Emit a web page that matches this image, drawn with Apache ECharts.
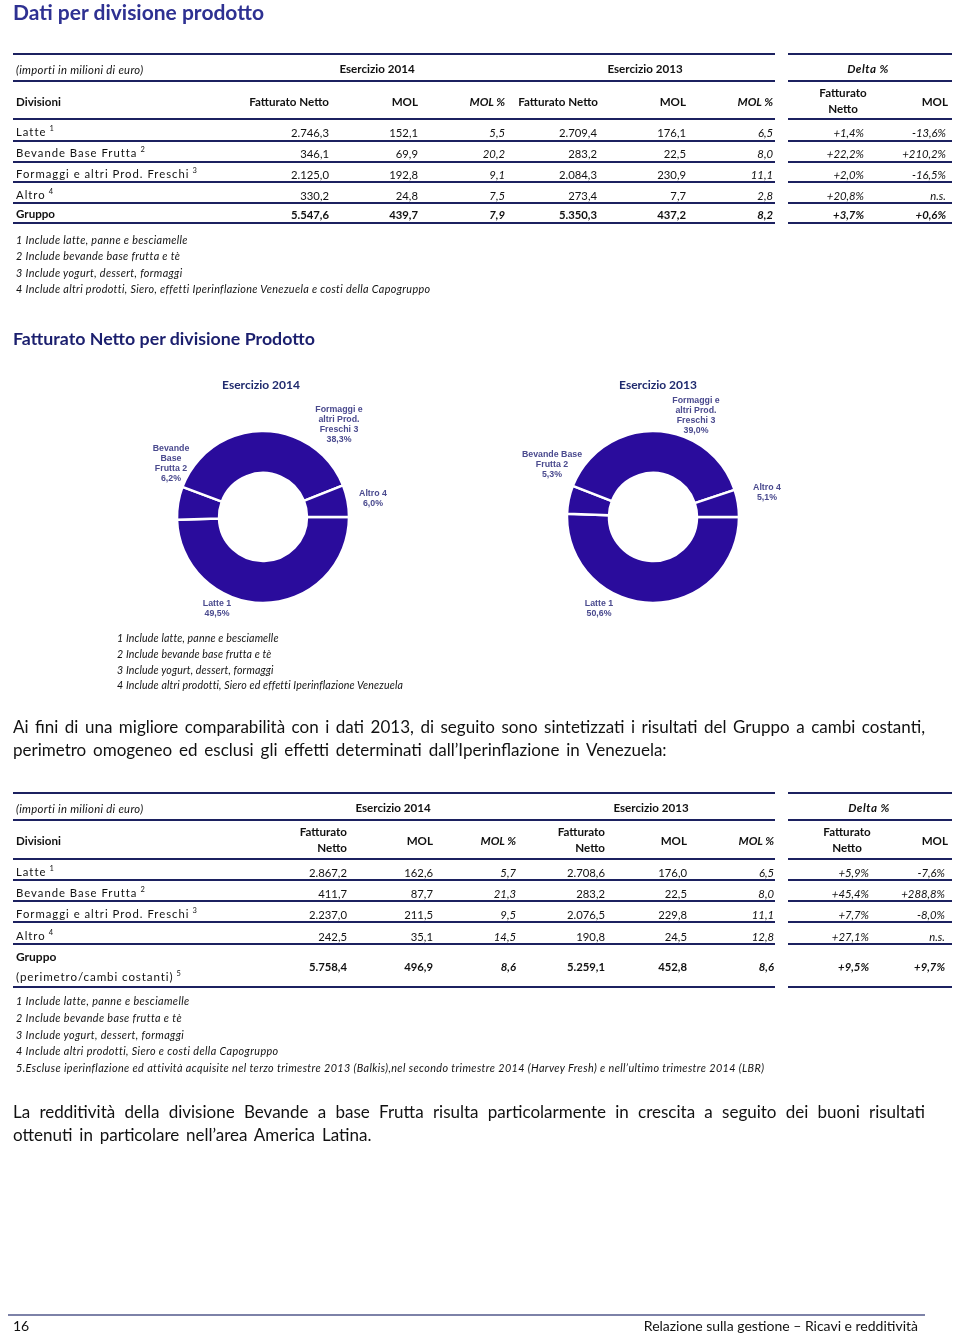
<!DOCTYPE html>
<html><head><meta charset="utf-8">
<script src="https://cdn.jsdelivr.net/npm/echarts@6/dist/echarts.min.js"></script>
<style>
html,body{margin:0;padding:0;background:#fff;}
#page{position:relative;width:960px;height:1334px;overflow:hidden;font-family:Lato,'Open Sans',sans-serif;color:#111;}
.t{position:absolute;white-space:nowrap;line-height:1.15;}
.ln{position:absolute;background:#1c2160;}
.sup{font-size:7.5px;position:relative;top:-5px;margin-left:3px;letter-spacing:0;}
#chart{position:absolute;left:0;top:0;width:960px;height:1334px;}
.par{position:absolute;left:13px;width:912px;font-size:17px;text-align:justify;text-align-last:justify;white-space:nowrap;line-height:1;color:#111;}
</style></head><body><div id="page"><div id="chart"></div></div>
<script>
// ---------------- DATA ----------------
const pageTitle = 'Dati per divisione prodotto';
const chartSectionTitle = 'Fatturato Netto per divisione Prodotto';
const unitLabel = '(importi in milioni di euro)';
const yearHeaders = ['Esercizio 2014', 'Esercizio 2013'];
const deltaHeader = 'Delta %';
const divisions = ['Latte', 'Bevande Base Frutta', 'Formaggi e altri Prod. Freschi', 'Altro'];
const divisionNotes = ['1', '2', '3', '4'];

// Table 1
const t1Fatt2014 = ['2.746,3', '346,1', '2.125,0', '330,2', '5.547,6'];
const t1Mol2014 = ['152,1', '69,9', '192,8', '24,8', '439,7'];
const t1MolPct2014 = ['5,5', '20,2', '9,1', '7,5', '7,9'];
const t1Fatt2013 = ['2.709,4', '283,2', '2.084,3', '273,4', '5.350,3'];
const t1Mol2013 = ['176,1', '22,5', '230,9', '7,7', '437,2'];
const t1MolPct2013 = ['6,5', '8,0', '11,1', '2,8', '8,2'];
const t1DeltaFatt = ['+1,4%', '+22,2%', '+2,0%', '+20,8%', '+3,7%'];
const t1DeltaMol = ['-13,6%', '+210,2%', '-16,5%', 'n.s.', '+0,6%'];
const t1Notes = [
  '1 Include latte, panne e besciamelle',
  '2 Include bevande base frutta e tè',
  '3 Include yogurt, dessert, formaggi',
  '4 Include altri prodotti, Siero, effetti Iperinflazione Venezuela e costi della Capogruppo'
];

// Donut charts (share of Fatturato Netto, %)
const pieYears = ['Esercizio 2014', 'Esercizio 2013'];
const share2014 = [49.5, 6.2, 38.3, 6.0];
const share2013 = [50.6, 5.3, 39.0, 5.1];
const pieLabels2014 = ['Latte 1', 'Bevande\nBase\nFrutta 2', 'Formaggi e\naltri Prod.\nFreschi 3', 'Altro 4'];
const pieLabels2013 = ['Latte 1', 'Bevande Base\nFrutta 2', 'Formaggi e\naltri Prod.\nFreschi 3', 'Altro 4'];
const pieNotes = [
  '1 Include latte, panne e besciamelle',
  '2 Include bevande base frutta e tè',
  '3 Include yogurt, dessert, formaggi',
  '4 Include altri prodotti, Siero ed effetti Iperinflazione Venezuela'
];

const para1 = [
  'Ai fini di una migliore comparabilità con i dati 2013, di seguito sono sintetizzati i risultati del Gruppo a cambi costanti,',
  'perimetro omogeneo ed esclusi gli effetti determinati dall’Iperinflazione in Venezuela:'
];

// Table 2
const t2GroupLabel = ['Gruppo', '(perimetro/cambi costanti)', '5'];
const t2Fatt2014 = ['2.867,2', '411,7', '2.237,0', '242,5', '5.758,4'];
const t2Mol2014 = ['162,6', '87,7', '211,5', '35,1', '496,9'];
const t2MolPct2014 = ['5,7', '21,3', '9,5', '14,5', '8,6'];
const t2Fatt2013 = ['2.708,6', '283,2', '2.076,5', '190,8', '5.259,1'];
const t2Mol2013 = ['176,0', '22,5', '229,8', '24,5', '452,8'];
const t2MolPct2013 = ['6,5', '8,0', '11,1', '12,8', '8,6'];
const t2DeltaFatt = ['+5,9%', '+45,4%', '+7,7%', '+27,1%', '+9,5%'];
const t2DeltaMol = ['-7,6%', '+288,8%', '-8,0%', 'n.s.', '+9,7%'];
const t2Notes = [
  '1 Include latte, panne e besciamelle',
  '2 Include bevande base frutta e tè',
  '3 Include yogurt, dessert, formaggi',
  '4 Include altri prodotti, Siero e costi della Capogruppo',
  '5.Escluse iperinflazione ed attività acquisite nel terzo trimestre 2013 (Balkis),nel secondo trimestre 2014 (Harvey Fresh) e nell\u2019ultimo trimestre 2014 (LBR)'
];
const para2 = [
  'La redditività della divisione Bevande a base Frutta risulta particolarmente in crescita a seguito dei buoni risultati',
  'ottenuti in particolare nell’area America Latina.'
];
const footerLeft = '16';
const footerRight = 'Relazione sulla gestione – Ricavi e redditività';

// ---------------- LAYOUT HELPERS ----------------
const page = document.getElementById('page');
function put(html, x, y, o) {
  o = o || {};
  const d = document.createElement('div');
  d.className = 't';
  d.innerHTML = html;
  d.style.fontSize = (o.size || 11) + 'px';
  if (o.bold) d.style.fontWeight = '700';
  if (o.italic) d.style.fontStyle = 'italic';
  if (o.color) d.style.color = o.color;
  if (o.ls) d.style.letterSpacing = o.ls + 'px';
  if (o.lh) d.style.lineHeight = o.lh + 'px';
  const a = o.align || 'left';
  d.style.textAlign = a;
  d.style.left = x + 'px';
  d.style.top = y + 'px';
  d.style.transform = 'translate(' + (a === 'right' ? '-100%' : a === 'center' ? '-50%' : '0') + ',-50%)';
  page.appendChild(d);
  return d;
}
function hline(x1, x2, y, w, color) {
  const d = document.createElement('div');
  d.className = 'ln';
  d.style.left = x1 + 'px';
  d.style.width = (x2 - x1) + 'px';
  d.style.top = (y - w / 2) + 'px';
  d.style.height = w + 'px';
  if (color) d.style.background = color;
  page.appendChild(d);
}
function tableLine(y, w) { hline(13, 775, y, w); hline(788, 952, y, w); }
function para(lines, y0, step) {
  lines.forEach((l, i) => {
    const d = document.createElement('div');
    d.className = 'par';
    d.textContent = l;
    d.style.top = (y0 + i * step - 9) + 'px';
    if (i === lines.length - 1) { d.style.textAlignLast = 'left'; d.style.wordSpacing = '2.5px'; }
    page.appendChild(d);
  });
}
function sup(n) { return '<span class="sup">' + n + '</span>'; }

const HS = 11.6;  // header font size
const NS = 11.3;  // number font size

// ---------------- PAGE ----------------
put(pageTitle, 13, 12, {size: 21, bold: true, color: '#2e3192'});

// Table 1
const T1 = {
  cols: [329, 418, 505, 597, 686, 773, 864, 946],
  rows: [132, 153, 174, 195, 214],
  lines: [[54, 2.5], [81, 2.5], [119, 2.5], [141, 1.5], [162, 1.5], [182, 1.5], [203, 2.5], [223, 2.5]]
};
T1.lines.forEach(l => tableLine(l[0], l[1]));
put(unitLabel, 16, 69, {size: 11.3, italic: true, ls: 0.3});
put(yearHeaders[0], 377, 69, {size: HS, bold: true, align: 'center'});
put(yearHeaders[1], 645, 69, {size: HS, bold: true, align: 'center'});
put(deltaHeader, 868, 69, {size: HS, bold: true, italic: true, align: 'center', ls: 0.5});
put('Divisioni', 16, 102, {size: HS, bold: true});
put('Fatturato Netto', T1.cols[0], 102, {size: HS, bold: true, align: 'right'});
put('MOL', T1.cols[1], 102, {size: HS, bold: true, align: 'right'});
put('MOL %', T1.cols[2], 102, {size: HS, bold: true, italic: true, align: 'right'});
put('Fatturato Netto', 598, 102, {size: HS, bold: true, align: 'right'});
put('MOL', T1.cols[4], 102, {size: HS, bold: true, align: 'right'});
put('MOL %', T1.cols[5], 102, {size: HS, bold: true, italic: true, align: 'right'});
put('Fatturato<br>Netto', 843, 101, {size: HS, bold: true, align: 'center', lh: 16});
put('MOL', 948, 102, {size: HS, bold: true, align: 'right'});
const t1Cols = [t1Fatt2014, t1Mol2014, t1MolPct2014, t1Fatt2013, t1Mol2013, t1MolPct2013, t1DeltaFatt, t1DeltaMol];
const italicCols = [false, false, true, false, false, true, true, true];
for (let r = 0; r < 5; r++) {
  const y = T1.rows[r];
  const bold = r === 4;
  if (r < 4) put(divisions[r] + sup(divisionNotes[r]), 16, y, {size: NS, ls: 1});
  else put('Gruppo', 16, y, {size: HS, bold: true});
  t1Cols.forEach((c, i) => put(c[r], T1.cols[i], y, {size: NS, bold: bold, italic: italicCols[i], align: 'right'}));
}
t1Notes.forEach((n, i) => put(n, 16, 240 + i * 16.4, {size: 10.8, italic: true, ls: 0.35}));

// Chart section
put(chartSectionTitle, 13, 338, {size: 17.8, bold: true, color: '#1b1f6e'});
pieNotes.forEach((n, i) => put(n, 117, 638 + i * 15.8, {size: 10.6, italic: true, ls: 0.15}));

// Paragraph 1
para(para1, 727, 23);

// Table 2
const T2 = {
  cols: [347, 433, 516, 605, 687, 774, 869, 945],
  rows: [872, 893, 914, 936, 966],
  lines: [[793, 2.5], [820, 2.5], [859, 2.5], [880, 1.5], [901, 1.5], [922, 1.5], [944, 2.5], [987, 2.5]]
};
T2.lines.forEach(l => tableLine(l[0], l[1]));
put(unitLabel, 16, 808, {size: 11.3, italic: true, ls: 0.3});
put(yearHeaders[0], 393, 808, {size: HS, bold: true, align: 'center'});
put(yearHeaders[1], 651, 808, {size: HS, bold: true, align: 'center'});
put(deltaHeader, 869, 808, {size: HS, bold: true, italic: true, align: 'center', ls: 0.5});
put('Divisioni', 16, 841, {size: HS, bold: true});
put('Fatturato<br>Netto', T2.cols[0], 840, {size: HS, bold: true, align: 'right', lh: 16});
put('MOL', T2.cols[1], 841, {size: HS, bold: true, align: 'right'});
put('MOL %', T2.cols[2], 841, {size: HS, bold: true, italic: true, align: 'right'});
put('Fatturato<br>Netto', T2.cols[3], 840, {size: HS, bold: true, align: 'right', lh: 16});
put('MOL', T2.cols[4], 841, {size: HS, bold: true, align: 'right'});
put('MOL %', T2.cols[5], 841, {size: HS, bold: true, italic: true, align: 'right'});
put('Fatturato<br>Netto', 847, 840, {size: HS, bold: true, align: 'center', lh: 16});
put('MOL', 948, 841, {size: HS, bold: true, align: 'right'});
const t2Cols = [t2Fatt2014, t2Mol2014, t2MolPct2014, t2Fatt2013, t2Mol2013, t2MolPct2013, t2DeltaFatt, t2DeltaMol];
for (let r = 0; r < 5; r++) {
  const y = T2.rows[r];
  const bold = r === 4;
  if (r < 4) put(divisions[r] + sup(divisionNotes[r]), 16, y, {size: NS, ls: 1});
  t2Cols.forEach((c, i) => put(c[r], T2.cols[i], y, {size: NS, bold: bold, italic: italicCols[i], align: 'right'}));
}
put(t2GroupLabel[0], 16, 957, {size: 12, bold: true});
put(t2GroupLabel[1] + sup(t2GroupLabel[2]), 16, 977, {size: 11.6, ls: 0.9});
t2Notes.forEach((n, i) => put(n, 16, 1001 + i * 16.8, {size: 10.8, italic: true, ls: 0.4}));

// Paragraph 2
para(para2, 1112, 23);

// Footer
hline(8, 925, 1315, 1.2, '#7d82a8');
put(footerLeft, 13, 1326, {size: 14});
put(footerRight, 918, 1326, {size: 14, align: 'right'});

// ---------------- CHART ----------------
const chart = echarts.init(document.getElementById('chart'), null, {renderer: 'canvas'});
const sliceColor = '#2a0c9c';
const labelColor = '#4a4a8e';
const pies = [
  {values: share2014, labels: pieLabels2014, cx: 263, cy: 517, titleX: 261,
   labelPos: [[-46, 92], [-92, -53], [76, -92], [110, -18]]},
  {values: share2013, labels: pieLabels2013, cx: 653, cy: 517, titleX: 658,
   labelPos: [[-54, 92], [-101, -52], [43, -101], [114, -24]]}
];
const fmt = v => v.toFixed(1).replace('.', ',') + '%';
chart.setOption({
  backgroundColor: 'transparent',
  animation: false,
  title: pies.map((p, i) => ({
    text: pieYears[i], left: p.titleX, top: 379, textAlign: 'center', padding: 0,
    textStyle: {fontFamily: 'Lato', fontSize: 12, fontWeight: 'bold', color: '#1f2a6e'}
  })),
  series: pies.map(p => ({
    type: 'pie',
    center: [p.cx, p.cy],
    radius: [44, 86],
    startAngle: 0,
    clockwise: true,
    avoidLabelOverlap: false,
    emphasis: {disabled: true},
    itemStyle: {color: sliceColor, borderColor: '#fff', borderWidth: 2.5},
    label: {
      show: true, position: 'outside',
      fontFamily: 'Liberation Sans, Arial, sans-serif', fontSize: 8.8, fontWeight: 'bold',
      color: labelColor, lineHeight: 10, align: 'center',
      formatter: prm => p.labels[prm.dataIndex] + '\n' + fmt(prm.value)
    },
    labelLine: {show: false},
    labelLayout: prm => ({
      x: p.cx + p.labelPos[prm.dataIndex][0],
      y: p.cy + p.labelPos[prm.dataIndex][1],
      align: 'center', verticalAlign: 'middle'
    }),
    data: p.values.map((v, i) => ({name: p.labels[i], value: v}))
  }))
});
</script></body></html>
